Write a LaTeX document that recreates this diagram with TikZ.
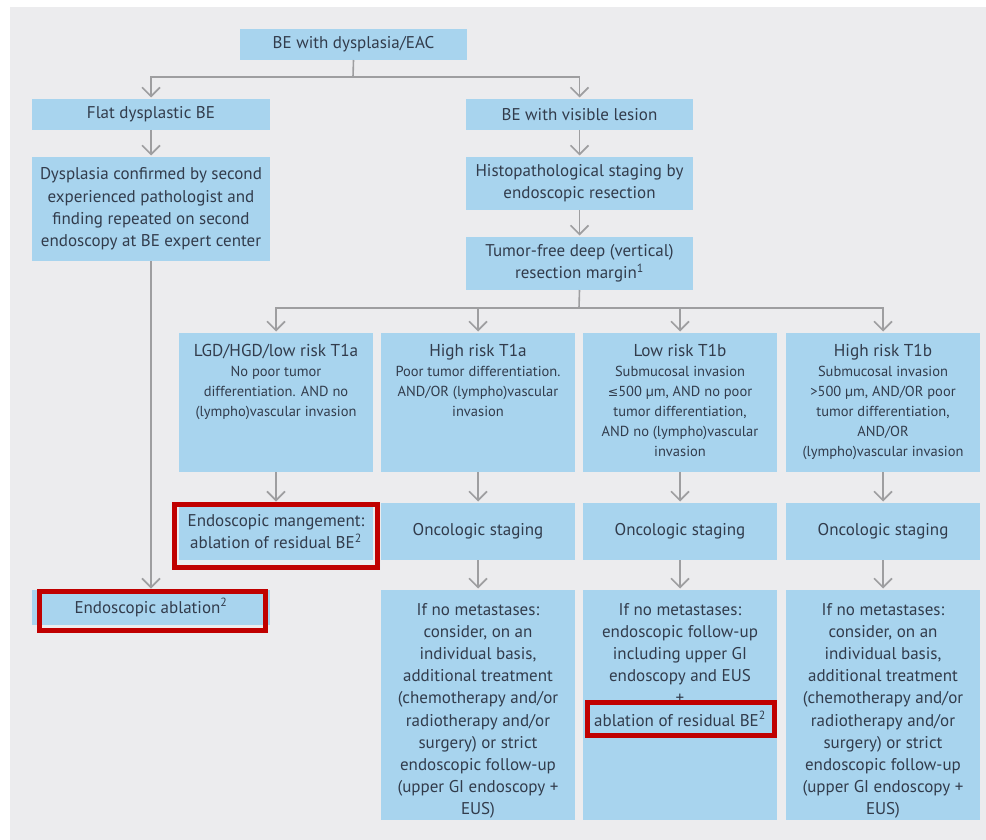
\documentclass[tikz,border=0pt]{standalone}
\usepackage{fontspec}
\setmainfont{PT Sans}
\usetikzlibrary{arrows.meta}
\definecolor{bgc}{RGB}{236,236,238}
\definecolor{boxblue}{RGB}{168,212,238}
\definecolor{txt}{RGB}{50,60,76}
\definecolor{connc}{RGB}{158,158,160}
\definecolor{redf}{RGB}{192,0,0}
\newcommand\mainfs{\fontsize{17}{22.2}\selectfont}
\newcommand\smallfs{\fontsize{14.5}{20}\selectfont}
\newcommand\titlefs{\fontsize{17.2}{20}\selectfont}
\begin{document}
\begin{tikzpicture}[x=1pt,y=-1pt,
  box/.style={fill=boxblue, draw=none, inner sep=0pt, outer sep=0pt, anchor=north west, text=txt, align=center, font=\mainfs},
  toptext/.style={anchor=north, inner sep=0pt, outer sep=0pt, text=txt, align=center},
  line/.style={draw=connc, line width=1.6pt},
  arr/.style={line, shorten >=1.5pt, -{Straight Barb[length=9pt,width=18pt,line width=1.6pt]}},
  redframe/.style={draw=redf, line width=5pt, fill=none, inner sep=0pt, outer sep=0pt}]
\useasboundingbox (0,0) rectangle (986,840);
\fill[bgc] (10,7) rectangle (986,840);
% top part
\node[box, minimum width=227, minimum height=31] (top) at (240,29) {BE with dysplasia/EAC};
\node[box, minimum width=238, minimum height=31] (flat) at (32,99) {Flat dysplastic BE};
\node[box, minimum width=238, minimum height=104] (dysp) at (32,157) {Dysplasia confirmed by second\\experienced pathologist and\\finding repeated on second\\endoscopy at BE expert center};
\node[box, minimum width=227, minimum height=31] (vis) at (466,99) {BE with visible lesion};
\node[box, minimum width=227, minimum height=53] (histo) at (466,157) {Histopathological staging by\\endoscopic resection};
\node[box, minimum width=227, minimum height=53] (tumor) at (466,237) {Tumor-free deep (vertical)\\resection margin\textsuperscript{1}};
% row 1
\node[box, minimum width=194, minimum height=139] (ra) at (179,333) {};
\node[box, minimum width=194, minimum height=139] (rb) at (381,333) {};
\node[box, minimum width=194, minimum height=139] (rc) at (583,333) {};
\node[box, minimum width=194, minimum height=139] (rd) at (786,333) {};
% row 2
\node[box, minimum width=194, minimum height=57] (sa) at (179,503) {Endoscopic mangement:\\ablation of residual BE\textsuperscript{2}};
\node[box, minimum width=194, minimum height=57] (sb) at (381,503) {Oncologic staging};
\node[box, minimum width=194, minimum height=57] (sc) at (583,503) {Oncologic staging};
\node[box, minimum width=194, minimum height=57] (sd) at (786,503) {Oncologic staging};
% row 3
\node[box, minimum width=238, minimum height=35] (abl) at (32,590) {Endoscopic ablation\textsuperscript{2}};
\node[box, minimum width=194, minimum height=230] (tb) at (381,590) {};
\node[box, minimum width=194, minimum height=230] (tc) at (583,590) {};
\node[box, minimum width=194, minimum height=230] (td) at (786,590) {};
% connectors
\coordinate (j1) at (353,77);
\coordinate (j2) at (579,308);
\draw[line] (top.south) -- (j1);
\draw[arr] (j1) -| (flat.north);
\draw[arr] (j1) -| (vis.north);
\draw[arr] (flat) -- (dysp);
\draw[arr] (vis) -- (histo);
\draw[arr] (histo) -- (tumor);
\draw[line] (tumor.south) -- (j2);
\draw[arr] (j2) -| (ra.north);
\draw[arr] (j2) -| (rb.north);
\draw[arr] (j2) -| (rc.north);
\draw[arr] (j2) -| (rd.north);
\draw[arr] (ra) -- (sa);
\draw[arr] (rb) -- (sb);
\draw[arr] (rc) -- (sc);
\draw[arr] (rd) -- (sd);
\draw[arr] (sb) -- (tb);
\draw[arr] (sc) -- (tc);
\draw[arr] (sd) -- (td);
\draw[arr] (dysp) -- (abl);
% texts in top-aligned boxes
\node[toptext, font=\smallfs] (ta) at ([yshift=-11.5]ra.north) {{\titlefs LGD/HGD/low risk T1a}\\No poor tumor\\differentiation. AND no\\(lympho)vascular invasion};
\node[toptext, font=\smallfs] (tbx) at ([yshift=-11.5]rb.north) {{\titlefs High risk T1a}\\Poor tumor differentiation.\\AND/OR (lympho)vascular\\invasion};
\node[toptext, font=\smallfs] (tcx) at ([yshift=-11.5]rc.north) {{\titlefs Low risk T1b}\\Submucosal invasion\\{\fontspec{DejaVu Sans}\fontsize{12.5}{20}\selectfont ≤}500 µm, AND no poor\\tumor differentiation,\\AND no (lympho)vascular\\invasion};
\node[toptext, font=\smallfs] (tdx) at ([yshift=-11.5]rd.north) {{\titlefs High risk T1b}\\Submucosal invasion\\>500 µm, AND/OR poor\\tumor differentiation,\\AND/OR\\(lympho)vascular invasion};
\node[toptext, font=\mainfs] (ub) at ([yshift=-13]tb.north) {If no metastases:\\consider, on an\\individual basis,\\additional treatment\\(chemotherapy and/or\\radiotherapy and/or\\surgery) or strict\\endoscopic follow-up\\(upper GI endoscopy +\\EUS)};
\node[toptext, font=\mainfs] (uc) at ([yshift=-13]tc.north) {If no metastases:\\endoscopic follow-up\\including upper GI\\endoscopy and EUS\\+\\ablation of residual BE\textsuperscript{2}};
\node[toptext, font=\mainfs] (ud) at ([yshift=-13]td.north) {If no metastases:\\consider, on an\\individual basis,\\additional treatment\\(chemotherapy and/or\\radiotherapy and/or\\surgery) or strict\\endoscopic follow-up\\(upper GI endoscopy +\\EUS)};
% red frames
\node[redframe, minimum width=203, minimum height=63] (rf1) at (276,536) {};
\node[redframe, minimum width=226, minimum height=39] (rf2) at (152.5,611) {};
\node[redframe, minimum width=187, minimum height=33] (rf3) at (681,719) {};
\end{tikzpicture}
\end{document}
